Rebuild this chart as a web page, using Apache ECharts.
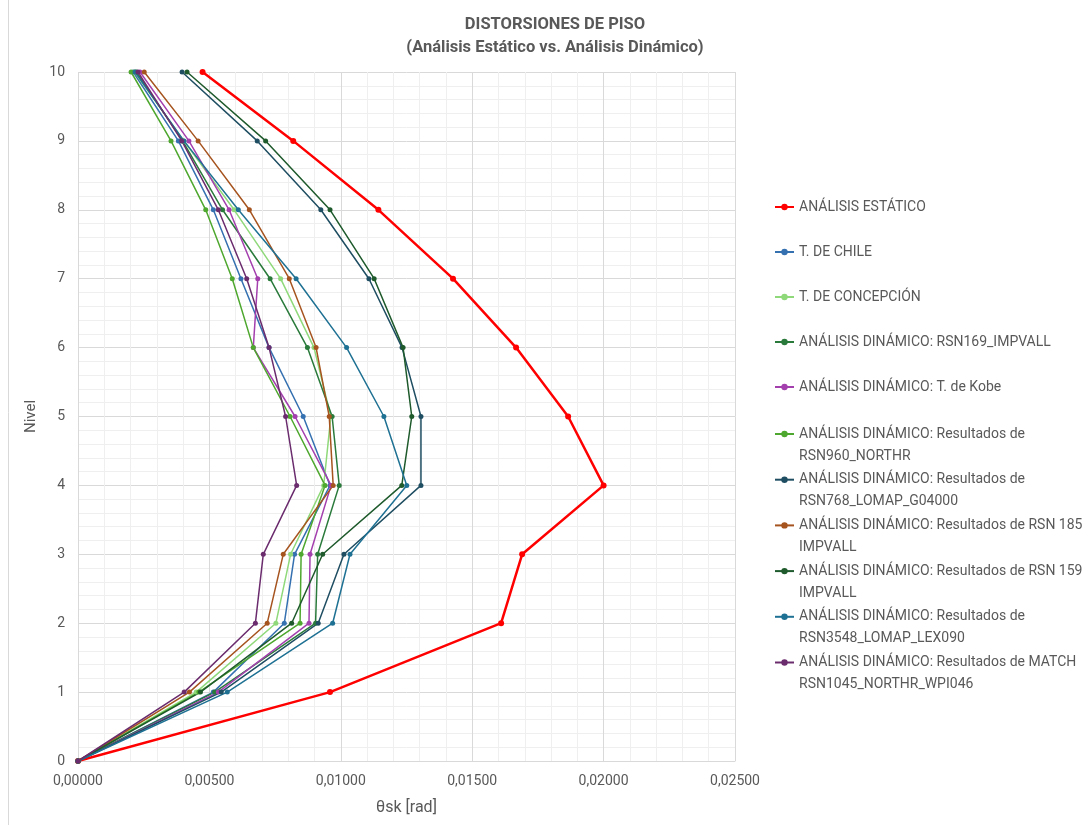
<!DOCTYPE html>
<html>
<head>
<meta charset="utf-8">
<script src="https://cdn.jsdelivr.net/npm/echarts@6/dist/echarts.min.js"></script>
<style>
html,body{margin:0;padding:0;background:#fff;}
#chart{width:1092px;height:825px;}
</style>
</head>
<body>
<div id="chart"></div>
<script>
// Levels (y values)
const levels = [0, 1, 2, 3, 4, 5, 6, 7, 8, 9, 10];

// Series names
const seriesNames = [
  'ANÁLISIS ESTÁTICO',
  'T. DE CHILE',
  'T. DE CONCEPCIÓN',
  'ANÁLISIS DINÁMICO: RSN169_IMPVALL',
  'ANÁLISIS DINÁMICO: T. de Kobe',
  'ANÁLISIS DINÁMICO: Resultados de\nRSN960_NORTHR',
  'ANÁLISIS DINÁMICO: Resultados de\nRSN768_LOMAP_G04000',
  'ANÁLISIS DINÁMICO: Resultados de RSN 185\nIMPVALL',
  'ANÁLISIS DINÁMICO: Resultados de RSN 159\nIMPVALL',
  'ANÁLISIS DINÁMICO: Resultados de\nRSN3548_LOMAP_LEX090',
  'ANÁLISIS DINÁMICO: Resultados de MATCH\nRSN1045_NORTHR_WPI046'
];

// Drift values (theta sk, rad) for levels 0..10
const estatico = [0, 0.00959, 0.0161, 0.0169, 0.0200, 0.01865, 0.01667, 0.01427, 0.01143, 0.00819, 0.00474];
const chile    = [0, 0.00515, 0.00785, 0.00824, 0.00959, 0.00857, 0.00727, 0.0062, 0.00515, 0.00382, 0.0021];
const concepcion = [0, 0.0045, 0.00753, 0.00809, 0.00935, 0.00962, 0.00898, 0.00771, 0.00594, 0.00403, 0.00215];
const rsn169   = [0, 0.0052, 0.00904, 0.00912, 0.00994, 0.00967, 0.00873, 0.00731, 0.0055, 0.00398, 0.00222];
const kobe     = [0, 0.00534, 0.00879, 0.00883, 0.00963, 0.00826, 0.00667, 0.00684, 0.00575, 0.00422, 0.00236];
const rsn960   = [0, 0.0046, 0.00845, 0.00849, 0.0094, 0.00807, 0.00667, 0.00587, 0.00486, 0.00354, 0.00202];
const rsn768   = [0, 0.00545, 0.00914, 0.01012, 0.01305, 0.01305, 0.01233, 0.01107, 0.00924, 0.00682, 0.00396];
const rsn185   = [0, 0.00424, 0.0072, 0.00781, 0.00971, 0.00956, 0.00906, 0.00804, 0.00652, 0.00457, 0.00252];
const rsn159   = [0, 0.00466, 0.00813, 0.00931, 0.01232, 0.0127, 0.01237, 0.01127, 0.00959, 0.00714, 0.00415];
const rsn3548  = [0, 0.00568, 0.00969, 0.01035, 0.01251, 0.01164, 0.01022, 0.0083, 0.0061, 0.00403, 0.00217];
const match1045 = [0, 0.00404, 0.00675, 0.00705, 0.00832, 0.0079, 0.00727, 0.00642, 0.00534, 0.00395, 0.00228];

const allValues = [estatico, chile, concepcion, rsn169, kobe, rsn960, rsn768, rsn185, rsn159, rsn3548, match1045];
const colors = ['#ff0000', '#3570b0', '#8fd97a', '#2a7a3b', '#a43fae', '#4ea72e', '#1f4e62', '#a6541f', '#1e5a2c', '#1f7193', '#6b2c6e'];

const FONT = 'Roboto, "Noto Sans", sans-serif';
const TXT = '#595959';

const series = allValues.map((vals, k) => ({
  name: seriesNames[k],
  type: 'line',
  data: vals.map((v, i) => [v, levels[i]]),
  symbol: 'circle',
  symbolSize: k === 0 ? 6 : 5,
  showSymbol: true,
  lineStyle: { width: k === 0 ? 2.5 : 1.5, color: colors[k] },
  itemStyle: { color: colors[k] },
  emphasis: { disabled: true },
  animation: false
}));

const chart = echarts.init(document.getElementById('chart'), null, { renderer: 'canvas' });
chart.setOption({
  animation: false,
  backgroundColor: '#ffffff',
  color: colors,
  title: {
    text: 'DISTORSIONES DE PISO\n(Análisis Estático vs. Análisis Dinámico)',
    left: 550,
    textAlign: 'center',
    top: 8,
    textStyle: { fontFamily: FONT, fontSize: 16.5, fontWeight: 'bold', color: TXT, lineHeight: 23 }
  },
  grid: { left: 78, right: 357, top: 72, bottom: 64, containLabel: false },
  legend: [
    {
      orient: 'vertical', left: 774, top: 196, padding: 0,
      itemWidth: 19, itemHeight: 8, itemGap: 23,
      data: seriesNames.slice(0, 5),
      textStyle: { fontFamily: FONT, fontSize: 14, color: TXT, lineHeight: 22 },
      selectedMode: false
    },
    {
      orient: 'vertical', left: 774, top: 401, padding: 0,
      itemWidth: 19, itemHeight: 8, itemGap: -20.3,
      data: seriesNames.slice(5),
      formatter: name => '\n' + name,
      textStyle: { fontFamily: FONT, fontSize: 14, color: TXT, lineHeight: 22 },
      selectedMode: false
    }
  ],
  xAxis: {
    type: 'value', min: 0, max: 0.025, interval: 0.005,
    name: 'θsk [rad]', nameLocation: 'middle', nameGap: 39,
    nameTextStyle: { fontFamily: FONT, fontSize: 16, color: TXT },
    axisLine: { show: true, lineStyle: { color: '#d9d9d9' } },
    axisTick: { show: false },
    axisLabel: { margin: 13, fontFamily: FONT, fontSize: 14, color: TXT,
      formatter: v => v.toFixed(5).replace('.', ',') },
    splitLine: { show: true, lineStyle: { color: '#d9d9d9', width: 1 } },
    minorTick: { show: false, splitNumber: 5 },
    minorSplitLine: { show: true, lineStyle: { color: '#efefef', width: 1 } }
  },
  yAxis: {
    type: 'value', min: 0, max: 10, interval: 1,
    name: 'Nivel', nameLocation: 'middle', nameGap: 36, nameRotate: 90,
    nameTextStyle: { fontFamily: FONT, fontSize: 15, color: TXT },
    axisLine: { show: false },
    axisTick: { show: false },
    axisLabel: { margin: 13, fontFamily: FONT, fontSize: 14, color: TXT },
    splitLine: { show: true, lineStyle: { color: '#d9d9d9', width: 1 } },
    minorTick: { show: false, splitNumber: 5 },
    minorSplitLine: { show: true, lineStyle: { color: '#efefef', width: 1 } }
  },
  graphic: [
    { type: 'line', shape: { x1: 8.5, y1: 0, x2: 8.5, y2: 825 }, style: { stroke: '#d9d9d9', lineWidth: 1 }, silent: true }
  ],
  series: series
});
</script>
</body>
</html>
